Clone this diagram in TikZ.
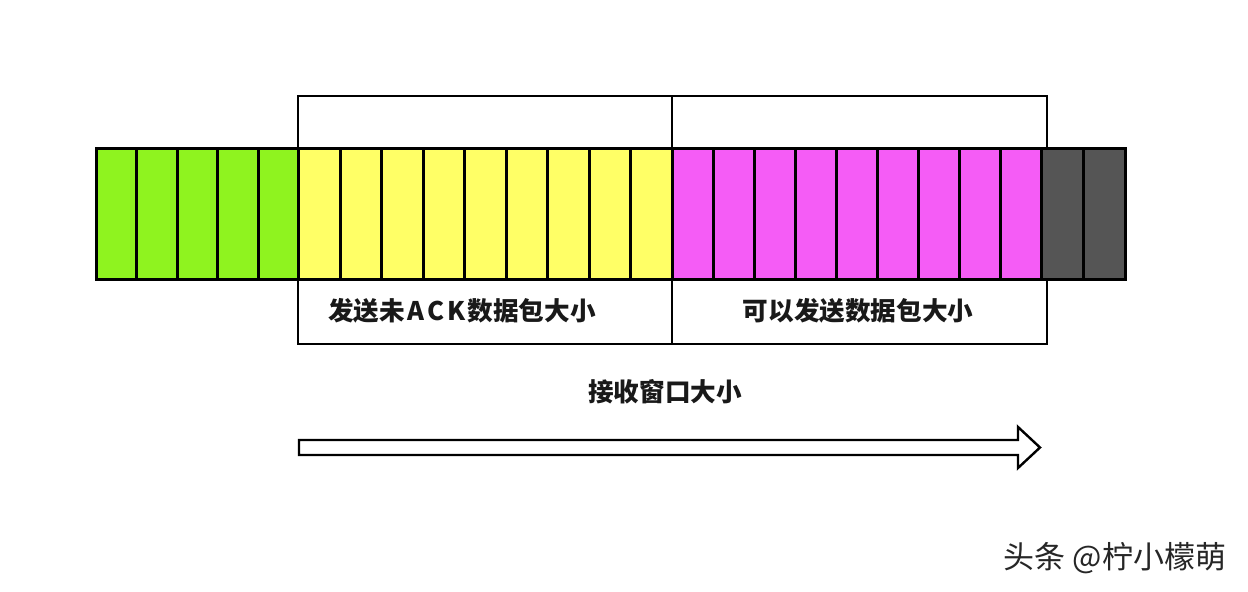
\documentclass[tikz,border=0pt]{standalone}
\usepackage{fontspec}
\newfontfamily\cjk{Noto Sans CJK SC}
\usetikzlibrary{positioning}
\definecolor{bargreen}{RGB}{143,243,31}
\definecolor{baryellow}{RGB}{255,255,102}
\definecolor{barpink}{RGB}{245,92,246}
\definecolor{bargray}{RGB}{85,85,85}

\begin{document}
\begin{tikzpicture}[x=0.5pt,y=-0.5pt]
	\tikzstyle{cell}=[draw=black, line width=1.5pt, inner sep=0pt, minimum height=65.5pt, anchor=north west]
	\tikzstyle{frame}=[draw=black, line width=1.2pt, inner sep=0pt, minimum height=124pt, anchor=north west]
	\tikzstyle{boxtext}=[font=\cjk\bfseries\fontsize{12.8}{15}\selectfont, text=black!90, inner sep=0pt]
	
	\fill[white] (0,0) rectangle (1248,592);
	\useasboundingbox (0,0) rectangle (1248,592);
	
	% window frames behind the bar
	\node[frame, minimum width=187pt] (unacked) at (297,95) {};
	\node[frame, minimum width=187.5pt] (usable) at (671,95) {};
	
	% the bar of packets
	\foreach \x/\w/\n/\c/\name in {95/40.4/5/bargreen/done, 297/41.56/9/baryellow/sent, 671/41/9/barpink/free, 1040/42/2/bargray/wait}
	{
		\foreach \i in {1,...,\n}
		\node[cell, fill=\c, minimum width=\w*0.5pt] (\name\i) at ({\x+(\i-1)*\w},147) {};
	}
	
	\node[boxtext] (unackedtext) at (462,311) {发送未\kern1.2pt A\kern1.4pt C\kern1.4pt K\kern1.2pt 数据包大小};
	\node[boxtext] (usabletext) at (858,311) {可以发送数据包大小};
	\node[boxtext] (wintext) at (665,392) {接收窗口大小};
	
	% window arrow
	\draw[line width=1.2pt, line join=miter, fill=white] (299,440) -- (1018,440) -- (1018,427) -- (1040,447.5) -- (1018,468) -- (1018,455) -- (299,455) -- cycle;
	
	\node[font=\cjk\fontsize{15.5}{18}\selectfont, text=black!85, inner sep=0pt] (mark) at (1115,558) {头条 @柠小檬萌};
\end{tikzpicture}
\end{document}
